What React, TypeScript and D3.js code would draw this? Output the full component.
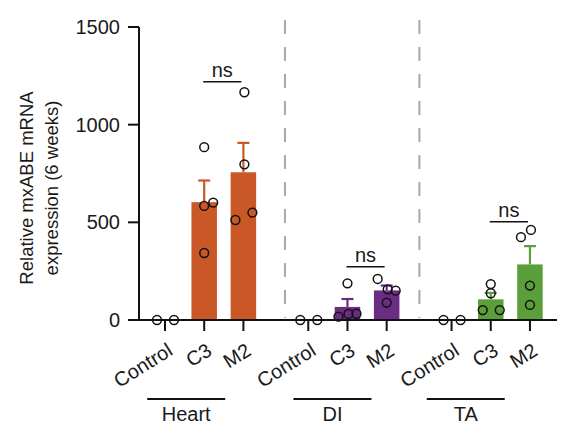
import React from "react";
import * as d3 from "d3";

// ---- data ----
const groups = ["Heart", "DI", "TA"];
const categories = ["Control", "C3", "M2"];
const groupColors = ["#c95826", "#6b2d84", "#5b9f3b"];
const yTicks = [0, 500, 1000, 1500];

// replicate values per group / category (Control, C3, M2)
const heartValues = [[0, 0], [885, 584, 601, 343], [1166, 797, 512, 550]];
const diValues = [[0, 0], [17, 188, 31, 32], [210, 157, 150, 89]];
const taValues = [[0, 0], [184, 137, 51, 51], [424, 461, 176, 77]];
const groupValues = [heartValues, diValues, taValues];

// horizontal jitter of replicate dots (px)
const heartJitter = [[-8, 9], [0, 0, 9, 0], [1, 1, -8, 9]];
const diJitter = [[-8, 9], [-9, 0, 1, 9], [-9, 1, 9, 0]];
const taJitter = [[-8, 9], [0, 0, -8, 9], [-9, 1, 0, 0]];
const groupJitter = [heartJitter, diJitter, taJitter];

// "ns" bracket heights (data units) between C3 and M2
const nsLevels = [1220, 273, 503];

const W = 565;
const H = 439;
const FONT = "'Liberation Sans', Arial, Helvetica, sans-serif";

export default function App() {
  const y = d3.scaleLinear().domain([0, 1500]).range([320, 27]);
  const x = d3.scaleLinear().domain([0, 1]).range([165, 165 + 39.2]);
  const groupStep = 3.655;
  const slot = (g: number, c: number) => g * groupStep + c;
  const barW = 25.5;
  const capW = 12;
  const dashSlots = [3.06, 6.49];
  const groupLineOffset = [-18, -15, -25];

  const mean = (a: number[]) => d3.mean(a) as number;
  const sem = (a: number[]) =>
    a.length > 1 ? (d3.deviation(a) as number) / Math.sqrt(a.length) : 0;

  return (
    <svg
      width={W}
      height={H}
      style={{ position: "absolute", left: 0, top: 0, background: "#fff" }}
      fontFamily={FONT}
    >
      {/* dashed separators */}
      {dashSlots.map((s, i) => (
        <line
          key={"d" + i}
          x1={x(s)}
          x2={x(s)}
          y1={20}
          y2={318}
          stroke="#a8a8a8"
          strokeWidth={2}
          strokeDasharray="14 13"
        />
      ))}

      {/* bars, error bars, dots */}
      {groupValues.map((gv, g) =>
        gv.map((vals, c) => {
          const cx = x(slot(g, c));
          const m = mean(vals);
          const e = sem(vals);
          const col = groupColors[g];
          return (
            <g key={g + "-" + c}>
              {m > 0 && (
                <rect
                  x={cx - barW / 2}
                  y={y(m)}
                  width={barW}
                  height={y(0) - y(m)}
                  fill={col}
                />
              )}
              {e > 0 && (
                <g stroke={col} strokeWidth={2.2}>
                  <line x1={cx} x2={cx} y1={y(m)} y2={y(m + e)} />
                  <line
                    x1={cx - capW / 2}
                    x2={cx + capW / 2}
                    y1={y(m + e)}
                    y2={y(m + e)}
                  />
                </g>
              )}
              {vals.map((v, k) => (
                <circle
                  key={k}
                  cx={cx + groupJitter[g][c][k]}
                  cy={y(v)}
                  r={4.4}
                  fill="none"
                  stroke="#111"
                  strokeWidth={1.5}
                />
              ))}
            </g>
          );
        })
      )}

      {/* y axis */}
      <line x1={139} x2={139} y1={y(1500)} y2={y(0)} stroke="#111" strokeWidth={2} />
      {yTicks.map((t) => (
        <g key={t}>
          <line x1={128} x2={139} y1={y(t)} y2={y(t)} stroke="#111" strokeWidth={2} />
          <text
            x={120}
            y={y(t)}
            dy="0.35em"
            textAnchor="end"
            fontSize={20}
            fill="#1a1a1a"
          >
            {t}
          </text>
        </g>
      ))}

      {/* x axis */}
      <line x1={138} x2={557} y1={y(0)} y2={y(0)} stroke="#111" strokeWidth={2} />
      {groups.map((gName, g) =>
        categories.map((cat, c) => {
          const cx = x(slot(g, c));
          return (
            <g key={gName + cat}>
              <line x1={cx} x2={cx} y1={y(0)} y2={y(0) + 11} stroke="#111" strokeWidth={2} />
              <text
                transform={`translate(${cx + 9},${y(0) + 34}) rotate(-32)`}
                textAnchor="end"
                fontSize={20}
                fill="#1a1a1a"
              >
                {cat}
              </text>
            </g>
          );
        })
      )}

      {/* ns brackets */}
      {nsLevels.map((lv, g) => {
        const x1 = x(slot(g, 1)) - 1;
        const x2 = x(slot(g, 2)) - 2;
        return (
          <g key={"ns" + g}>
            <line x1={x1} x2={x2} y1={y(lv)} y2={y(lv)} stroke="#111" strokeWidth={1.5} />
            <text
              x={(x1 + x2) / 2}
              y={y(lv) - 4.5}
              textAnchor="middle"
              fontSize={20}
              fill="#1a1a1a"
            >
              ns
            </text>
          </g>
        );
      })}

      {/* group labels */}
      {groups.map((gName, g) => {
        const cx = x(slot(g, 1)) + groupLineOffset[g];
        return (
          <g key={"gl" + gName}>
            <line x1={cx - 39} x2={cx + 39} y1={399} y2={399} stroke="#111" strokeWidth={2} />
            <text x={cx} y={421} textAnchor="middle" fontSize={20} fill="#1a1a1a">
              {gName}
            </text>
          </g>
        );
      })}

      {/* y label */}
      <g transform="translate(33,188) rotate(-90)">
        <text textAnchor="middle" fontSize={18.5} fill="#1a1a1a">
          Relative mxABE mRNA
        </text>
      </g>
      <g transform="translate(58,188) rotate(-90)">
        <text textAnchor="middle" fontSize={18.5} fill="#1a1a1a">
          expression (6 weeks)
        </text>
      </g>
    </svg>
  );
}
